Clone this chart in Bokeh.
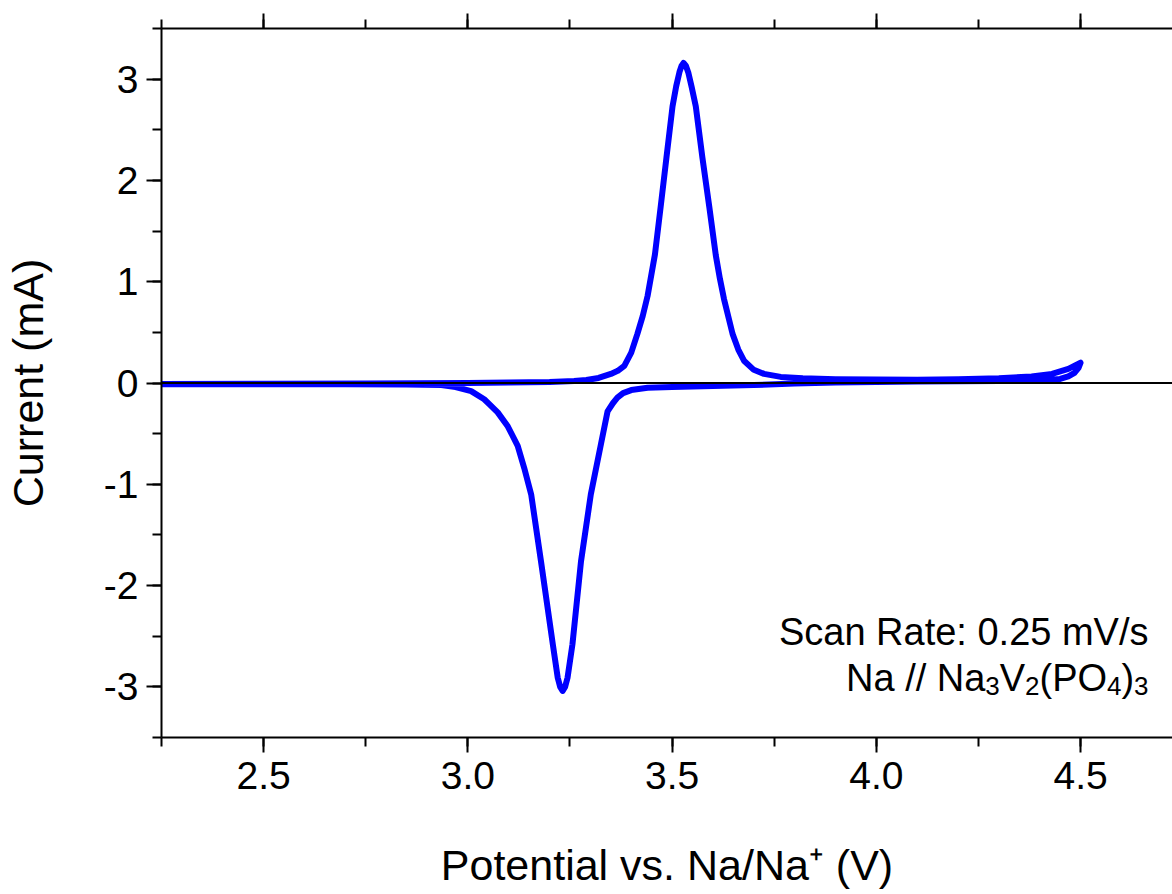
from bokeh.plotting import figure
from bokeh.models import (Range1d, LinearAxis, SingleIntervalTicker, NumeralTickFormatter,
                          Span, Label, ColumnDataSource, CustomLabelingPolicy)
from bokeh.embed import file_html
from bokeh.resources import INLINE

# ---------------- data ----------------
fwd_potential = [2.25, 2.5, 2.75, 3.0, 3.1, 3.2, 3.26, 3.29, 3.32, 3.35, 3.367, 3.383,
                 3.40, 3.415, 3.428, 3.44, 3.458, 3.472, 3.486, 3.501, 3.51, 3.518,
                 3.523, 3.528, 3.534, 3.54, 3.548, 3.558, 3.574, 3.591, 3.607, 3.617,
                 3.627, 3.648, 3.662, 3.676, 3.70, 3.725, 3.766, 3.82, 3.9, 4.0, 4.1,
                 4.2, 4.3, 4.38, 4.43, 4.47, 4.5]
fwd_current = [-0.01, -0.008, -0.005, 0.0, 0.004, 0.01, 0.02, 0.03, 0.05, 0.09, 0.12, 0.17,
               0.3, 0.485, 0.66, 0.86, 1.27, 1.74, 2.22, 2.73, 2.93, 3.07, 3.13, 3.16,
               3.13, 3.06, 2.92, 2.73, 2.23, 1.74, 1.26, 1.03, 0.83, 0.485, 0.33, 0.22,
               0.13, 0.09, 0.06, 0.048, 0.038, 0.034, 0.033, 0.036, 0.046, 0.065, 0.09,
               0.14, 0.2]

rev_potential = [4.5, 4.495, 4.485, 4.47, 4.45, 4.4, 4.3, 4.1, 3.9, 3.8, 3.7, 3.6, 3.5,
                 3.44, 3.40, 3.38, 3.366, 3.355, 3.342, 3.326, 3.301, 3.277, 3.256,
                 3.244, 3.238, 3.232, 3.226, 3.22, 3.208, 3.179, 3.155, 3.138, 3.122,
                 3.098, 3.073, 3.053, 3.04, 3.008, 2.97, 2.935, 2.85, 2.7, 2.5, 2.25]
rev_current = [0.2, 0.15, 0.1, 0.065, 0.04, 0.025, 0.02, 0.015, 0.005, -0.005, -0.02,
               -0.03, -0.04, -0.047, -0.07, -0.1, -0.145, -0.2, -0.28, -0.60, -1.10,
               -1.76, -2.58, -2.91, -3.0, -3.04, -3.0, -2.91, -2.58, -1.76, -1.10, -0.84,
               -0.62, -0.43, -0.29, -0.21, -0.16, -0.08, -0.04, -0.02, -0.015, -0.012,
               -0.012, -0.012]

x_label = "Potential vs. Na/Na\u207a (V)"
y_label = "Current (mA)"
note_line1 = "Scan Rate: 0.25 mV/s"
note_line2 = [("Na // Na", False), ("3", True), ("V", False), ("2", True),
              ("(PO", False), ("4", True), (")", False), ("3", True)]

# ---------------- layout ----------------
W, H = 1172, 894
FX0, FX1, FY0, FY1 = 160, 1172, 28, 737
XR = (2.25, 4.725)
YR = (-3.5, 3.5)
FONT = "Liberation Sans"

p = figure(width=W, height=H, output_backend="svg", toolbar_location=None,
           x_range=Range1d(*XR), y_range=Range1d(*YR),
           x_axis_location=None, y_axis_location=None,
           min_border_left=FX0, min_border_right=0, min_border_top=FY0,
           min_border_bottom=H - FY1)
p.outline_line_color = None
p.background_fill_color = "white"
p.border_fill_color = "white"
p.xgrid.visible = False
p.ygrid.visible = False


def style_axis(ax):
    ax.axis_line_width = 2
    ax.axis_line_color = "black"
    ax.major_tick_line_width = 2
    ax.minor_tick_line_width = 2
    ax.major_tick_line_color = "black"
    ax.minor_tick_line_color = "black"
    ax.major_tick_in = 0
    ax.major_tick_out = 15
    ax.minor_tick_in = 0
    ax.minor_tick_out = 9
    ax.major_label_text_font = FONT
    ax.major_label_text_font_size = "39px"
    ax.major_label_text_color = "black"
    ax.axis_label_text_font = FONT
    ax.axis_label_text_font_style = "normal"
    ax.axis_label_text_font_size = "43px"
    ax.axis_label_text_color = "black"


xbottom = LinearAxis(ticker=SingleIntervalTicker(interval=0.5, num_minor_ticks=2),
                     formatter=NumeralTickFormatter(format="0.0"), axis_label=x_label)
style_axis(xbottom)
xbottom.major_label_standoff = 9
xbottom.axis_label_standoff = 49
p.add_layout(xbottom, "below")

# mirrored top axis: ticks only, its labels filtered out
xtop = LinearAxis(ticker=SingleIntervalTicker(interval=0.5, num_minor_ticks=2),
                  major_label_policy=CustomLabelingPolicy(code="return []"))
style_axis(xtop)
xtop.major_label_text_font_size = "1px"
xtop.major_label_standoff = 0
p.add_layout(xtop, "above")

yleft = LinearAxis(ticker=SingleIntervalTicker(interval=1, num_minor_ticks=2),
                   formatter=NumeralTickFormatter(format="0"), axis_label=y_label)
style_axis(yleft)
yleft.major_label_standoff = 8
yleft.axis_label_standoff = 49
p.add_layout(yleft, "left")

# zero line
p.add_layout(Span(location=0, dimension="width", line_color="black", line_width=2))

# CV curve
src = ColumnDataSource(dict(x=fwd_potential + rev_potential,
                            y=fwd_current + rev_current))
p.line("x", "y", source=src, line_color="#0000ff", line_width=6,
       line_join="round", line_cap="round")

# ---------------- annotation ----------------
sx = (XR[1] - XR[0]) / (FX1 - FX0)
sy = (YR[1] - YR[0]) / (FY1 - FY0)


def px2x(px):
    return XR[0] + (px - FX0) * sx


def px2y(py):
    return YR[1] - (py - FY0) * sy


MAIN, SUB = 38, 26
p.add_layout(Label(x=px2x(1148), y=px2y(631), text=note_line1, text_align="right",
                   text_baseline="alphabetic", text_font=FONT,
                   text_font_size=f"{MAIN}px", text_color="black"))

ARIAL = {"N": 722, "a": 556, " ": 278, "/": 278, "V": 667, "(": 333, "P": 667,
         "O": 778, ")": 333, "0": 556, "1": 556, "2": 556, "3": 556, "4": 556}


def width(t, size):
    return sum(ARIAL.get(c, 556) for c in t) * size / 1000.0


total = sum(width(t, SUB if s else MAIN) for t, s in note_line2)
cur = 1148 - total
for t, s in note_line2:
    size = SUB if s else MAIN
    base = 685 if s else 677
    p.add_layout(Label(x=px2x(cur), y=px2y(base), text=t, text_align="left",
                       text_baseline="alphabetic", text_font=FONT,
                       text_font_size=f"{size}px", text_color="black"))
    cur += width(t, size)

open("out.html", "w").write(file_html(p, INLINE))
